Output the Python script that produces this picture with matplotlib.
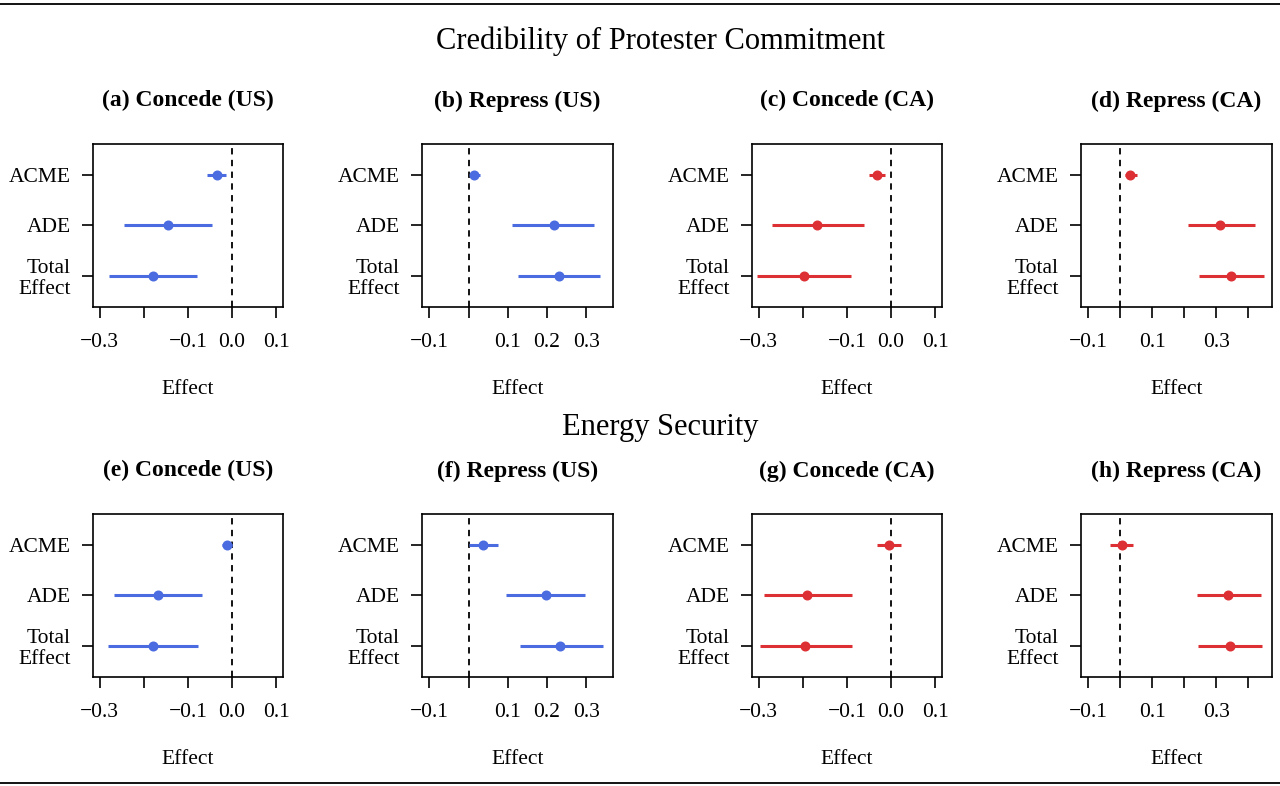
import matplotlib
matplotlib.use("Agg")
import matplotlib.pyplot as plt
from matplotlib.lines import Line2D

plt.rcParams['font.family'] = ['Liberation Serif', 'DejaVu Serif']

# effect labels, top to bottom
effects = ["ACME", "ADE", "Total\nEffect"]

titles = ["(a) Concede (US)", "(b) Repress (US)", "(c) Concede (CA)", "(d) Repress (CA)",
          "(e) Concede (US)", "(f) Repress (US)", "(g) Concede (CA)", "(h) Repress (CA)"]
row_titles = ["Credibility of Protester Commitment", "Energy Security"]

# point estimates and 95% intervals, order: ACME, ADE, Total Effect
est_a = [-0.034, -0.145, -0.180]
lo_a = [-0.057, -0.246, -0.280]
hi_a = [-0.013, -0.045, -0.079]

est_b = [0.015, 0.217, 0.231]
lo_b = [0.006, 0.111, 0.126]
hi_b = [0.030, 0.321, 0.335]

est_c = [-0.031, -0.167, -0.198]
lo_c = [-0.050, -0.271, -0.305]
hi_c = [-0.013, -0.062, -0.092]

est_d = [0.031, 0.312, 0.346]
lo_d = [0.015, 0.210, 0.245]
hi_d = [0.053, 0.419, 0.449]

est_e = [-0.011, -0.168, -0.180]
lo_e = [-0.024, -0.267, -0.281]
hi_e = [-0.001, -0.069, -0.078]

est_f = [0.038, 0.197, 0.234]
lo_f = [0.002, 0.095, 0.130]
hi_f = [0.075, 0.297, 0.344]

est_g = [-0.005, -0.190, -0.195]
lo_g = [-0.033, -0.289, -0.298]
hi_g = [0.023, -0.089, -0.089]

est_h = [0.005, 0.336, 0.343]
lo_h = [-0.032, 0.240, 0.244]
hi_h = [0.040, 0.438, 0.443]

# per column: x range and ticks
col_xlim = [(-0.3, 0.1), (-0.1, 0.35), (-0.3, 0.1), (-0.1, 0.45)]
col_ticks = [[-0.3, -0.2, -0.1, 0.0, 0.1],
             [-0.1, 0.0, 0.1, 0.2, 0.3],
             [-0.3, -0.2, -0.1, 0.0, 0.1],
             [-0.1, 0.0, 0.1, 0.2, 0.3, 0.4]]
col_ticklabels = [["\u22120.3", "", "\u22120.1", "0.0", "0.1"],
                  ["\u22120.1", "", "0.1", "0.2", "0.3"],
                  ["\u22120.3", "", "\u22120.1", "0.0", "0.1"],
                  ["\u22120.1", "", "0.1", "", "0.3", ""]]

blue = "#4B6BE0"
red = "#DD3034"
col_colors = [blue, blue, red, red]

panels = [(est_a, lo_a, hi_a), (est_b, lo_b, hi_b), (est_c, lo_c, hi_c), (est_d, lo_d, hi_d),
          (est_e, lo_e, hi_e), (est_f, lo_f, hi_f), (est_g, lo_g, hi_g), (est_h, lo_h, hi_h)]

W, H = 1280, 786
fig = plt.figure(figsize=(W / 100, H / 100), dpi=100)

# layout in pixels
lefts = [92.7, 422.3, 751.7, 1081.0]
tops = [144.0, 514.0]
aw, ah = 190.6, 162.7

ypos = [3, 2, 1]

for i, (est, lo, hi) in enumerate(panels):
    r, c = divmod(i, 4)
    ax = fig.add_axes([lefts[c] / W, 1 - (tops[r] + ah) / H, aw / W, ah / H])
    color = col_colors[c]
    ax.axvline(0, color="black", ls=(0, (3.5, 3)), lw=1.3, zorder=1)
    ax.hlines(ypos, lo, hi, color=color, lw=2.2, zorder=2)
    ax.plot(est, ypos, "o", color=color, ms=6.2, zorder=3)

    x0, x1 = col_xlim[c]
    pad = (x1 - x0) * 0.04
    ax.set_xlim(x0 - pad, x1 + pad)
    ax.set_ylim(0.5 - 0.12, 3.5 + 0.12)
    ax.set_xticks(col_ticks[c])
    ax.set_xticklabels(col_ticklabels[c])
    ax.set_yticks(ypos)
    ax.set_yticklabels(effects)
    for t in ax.get_yticklabels():
        t.set_linespacing(1.12)
    ax.tick_params(axis="both", direction="out", length=8, width=1.2, labelsize=15.5)
    ax.tick_params(axis="x", pad=11)
    ax.tick_params(axis="y", pad=8)
    for s in ax.spines.values():
        s.set_linewidth(1.2)
    ax.set_xlabel("Effect", fontsize=15.5, labelpad=20)
    ax.set_title(titles[i], fontsize=17, fontweight="bold", pad=27)

fig.text(660 / W, 1 - 41 / H, row_titles[0], ha="center", va="center", fontsize=22)
fig.text(660 / W, 1 - 427 / H, row_titles[1], ha="center", va="center", fontsize=22)

fig.add_artist(Line2D([0, 1], [1 - 4 / H, 1 - 4 / H], transform=fig.transFigure, color="black", lw=1.3))
fig.add_artist(Line2D([0, 1], [1 - 783 / H, 1 - 783 / H], transform=fig.transFigure, color="black", lw=1.3))

fig.savefig("out.png", dpi=100)
